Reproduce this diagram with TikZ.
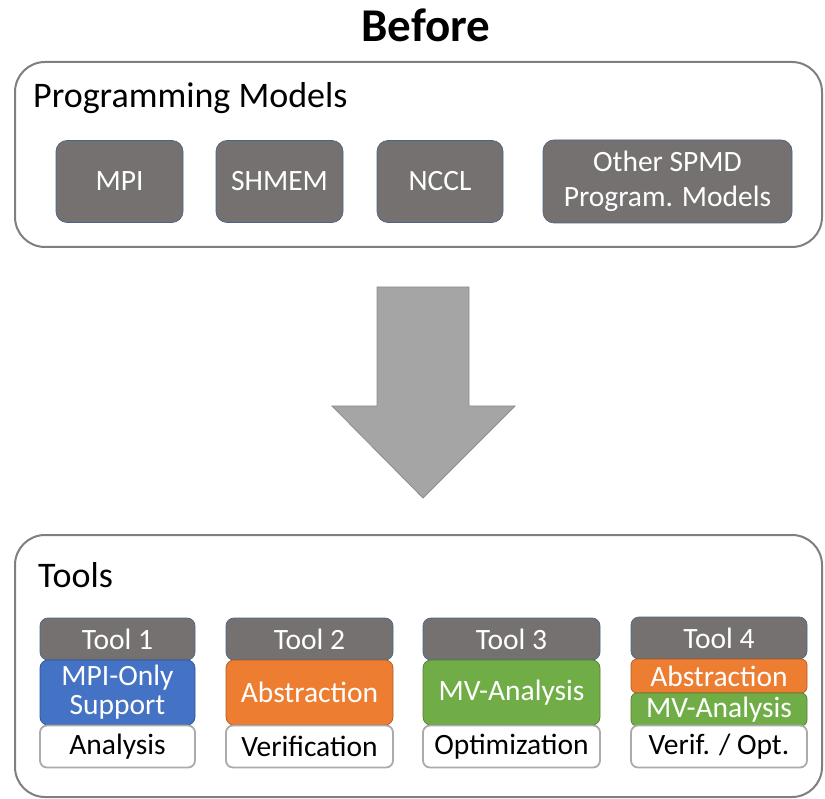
\documentclass[tikz,border=0pt]{standalone}
\usepackage{fontspec}
\setmainfont{Carlito}
\definecolor{outergray}{HTML}{7F7F7F}
\definecolor{darkg}{HTML}{767171}
\definecolor{pmborder}{HTML}{4A6585}
\definecolor{toolblue}{HTML}{4472C4}
\definecolor{toolblueb}{HTML}{2F528F}
\definecolor{toolorange}{HTML}{ED7D31}
\definecolor{toolorangeb}{HTML}{AE5A21}
\definecolor{toolgreen}{HTML}{70AD47}
\definecolor{toolgreenb}{HTML}{507E32}
\definecolor{whiteb}{HTML}{ABABAB}
\definecolor{arrowfill}{HTML}{A5A5A5}
\definecolor{arrowdraw}{HTML}{8C8C8C}
\tikzset{
  outerbox/.style={draw=outergray, line width=2pt, rounded corners=30pt},
  pmbox/.style={draw=pmborder, line width=0.7pt, fill=darkg, rounded corners=11pt,
    text=white, font=\fontsize{29.5}{35}\selectfont, align=center, inner sep=0pt},
  hdrbox/.style={draw=pmborder, line width=0.7pt, fill=darkg, rounded corners=8pt,
    text=white, font=\fontsize{29.5}{29}\selectfont, align=center, inner sep=0pt,
    minimum height=42pt},
  colbox/.style={line width=0.7pt, rounded corners=8pt, text=white,
    font=\fontsize{29.5}{29}\selectfont, align=center, inner sep=0pt},
  bluebox/.style={colbox, draw=toolblueb, fill=toolblue},
  orangebox/.style={colbox, draw=toolorangeb, fill=toolorange},
  greenbox/.style={colbox, draw=toolgreenb, fill=toolgreen},
  whitebox/.style={draw=whiteb, line width=1.8pt, fill=white, rounded corners=7pt,
    text=black, font=\fontsize{29.5}{29}\selectfont, inner sep=0pt, minimum height=42pt},
  heading/.style={anchor=base west, inner sep=0pt, font=\fontsize{36}{40}\selectfont},
}
\begin{document}
\begin{tikzpicture}[x=1pt,y=-1pt]
\useasboundingbox (0,0) rectangle (825,799);
% title
\node[anchor=base, inner sep=0pt, font=\fontsize{47}{50}\selectfont\bfseries] (title) at (426,42) {Before};
% top box
\draw[outerbox] (15,62) rectangle (822,247);
\node[heading] (pmtitle) at (33,108) {Programming Models};
\node[pmbox, minimum width=127pt, minimum height=82pt] (mpi) at (119.5,181.5) {MPI};
\node[pmbox, minimum width=127pt, minimum height=82pt] (shmem) at (279.5,181.5) {SHMEM};
\node[pmbox, minimum width=126pt, minimum height=82pt] (nccl) at (440,181.5) {NCCL};
\node[pmbox, minimum width=249pt, minimum height=83pt] (other) at (667.5,181.5) {Other SPMD\\Program. Models};
% big arrow
\filldraw[fill=arrowfill, draw=arrowdraw, line width=0.8pt]
  (377,287) -- (469,287) -- (469,406) -- (515,406) -- (423,498) -- (332,406) -- (377,406) -- cycle;
% bottom box
\draw[outerbox] (15,535) rectangle (822,797);
\node[heading] (toolstitle) at (38,587) {Tools};
% Tool 1
\node[hdrbox, minimum width=155pt] (t1h) at (117.5,639) {Tool 1};
\node[bluebox, minimum width=155pt, minimum height=65pt] (t1m) at (117.5,692.5) {MPI-Only\\Support};
\node[whitebox, minimum width=155pt] (t1b) at (117.5,746.5) {Analysis};
% Tool 2
\node[hdrbox, minimum width=167pt] (t2h) at (309.5,639) {Tool 2};
\node[orangebox, minimum width=167pt, minimum height=65pt] (t2m) at (309.5,692.5) {Abstraction};
\node[whitebox, minimum width=167pt] (t2b) at (309.5,746.5) {Verification};
% Tool 3
\node[hdrbox, minimum width=177pt] (t3h) at (511.5,639) {Tool 3};
\node[greenbox, minimum width=177pt, minimum height=65pt] (t3m) at (511.5,692.5) {MV-Analysis};
\node[whitebox, minimum width=177pt] (t3b) at (511.5,746.5) {Optimization};
% Tool 4
\node[hdrbox, minimum width=176pt] (t4h) at (719,638) {Tool 4};
\node[orangebox, minimum width=176pt, minimum height=34pt, rounded corners=6pt] (t4a) at (719,676) {Abstraction};
\node[greenbox, minimum width=176pt, minimum height=33pt, rounded corners=6pt] (t4m) at (719,709.5) {MV-Analysis};
\node[whitebox, minimum width=176pt] (t4b) at (719,746.5) {Verif. / Opt.};
\end{tikzpicture}
\end{document}
